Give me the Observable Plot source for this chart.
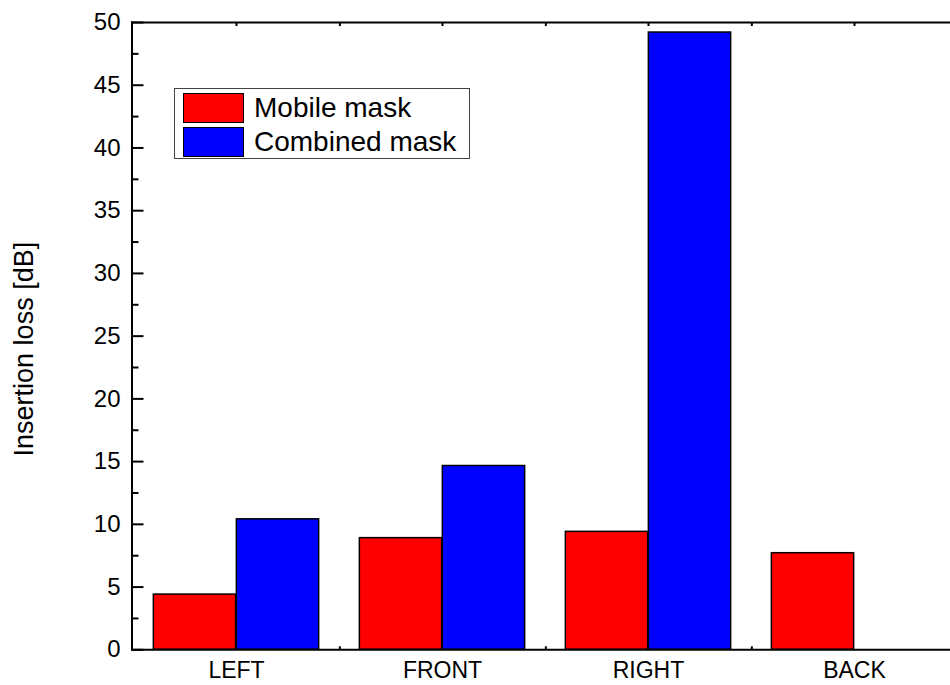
<!DOCTYPE html>
<html>
<head>
<meta charset="utf-8">
<script src="https://cdn.jsdelivr.net/npm/d3@7"></script>
<script src="https://cdn.jsdelivr.net/npm/@observablehq/plot@0.6"></script>
<style>
  html, body { margin: 0; padding: 0; overflow: hidden; background: #fff; width: 950px; height: 685px; }
  #wrap { position: relative; width: 950px; height: 685px; overflow: hidden; }
  #wrap svg { max-width: none !important; overflow: hidden !important; display: block; }
  #legend {
    position: absolute; left: 174px; top: 88px; width: 296px; height: 71px;
    border: 1px solid #444; background: #fff; box-sizing: border-box;
    font-family: "Liberation Sans", Arial, sans-serif; font-size: 28px; color: #000;
  }
  #edge { position: absolute; left: 938px; top: 24px; width: 12px; height: 623px; background: #fff; }
  .row { position: absolute; left: 8px; height: 31px; display: flex; align-items: center; }
  .sw { width: 59px; height: 28px; border: 1.5px solid #000; box-sizing: content-box; margin-right: 10px; }
</style>
</head>
<body>
<div id="wrap"></div>
<script>
const categories = ["LEFT", "FRONT", "RIGHT", "BACK"];
const seriesNames = ["Mobile mask", "Combined mask"];
const mobileMask = [4.4, 8.9, 9.4, 7.7];
const combinedMask = [10.4, 14.65, 49.2, 0];
const yMajorTicks = [0, 5, 10, 15, 20, 25, 30, 35, 40, 45, 50];
const yMinorTicks = [2.5, 7.5, 12.5, 17.5, 22.5, 27.5, 32.5, 37.5, 42.5, 47.5];
const colors = ["#ff0000", "#0000ff"];

const mobileData = categories.map((c, i) => ({cat: c, value: mobileMask[i]}));
const combinedData = categories.map((c, i) => ({cat: c, value: combinedMask[i]}));

const W = 950, ML = 131.5, MR = -8.3;
const step = (W - ML - MR) / categories.length;
const barW = 83;
const font = '"Liberation Sans", Arial, sans-serif';

const chart = Plot.plot({
  width: W,
  height: 685,
  marginLeft: ML,
  marginRight: MR,
  marginTop: 22,
  marginBottom: 35.7,
  style: {fontFamily: font, background: "#fff", color: "#000", maxWidth: "none", overflow: "hidden"},
  x: {type: "band", domain: categories, padding: 0, label: null},
  y: {domain: [0, 50], label: null},
  marks: [
    Plot.barY(mobileData, {x: "cat", y: "value", fill: colors[0], stroke: "#000", strokeWidth: 1.5,
      insetLeft: step / 2 - barW, insetRight: step / 2}),
    Plot.barY(combinedData.filter(d => d.value > 0), {x: "cat", y: "value", fill: colors[1], stroke: "#000", strokeWidth: 1.5,
      insetLeft: step / 2, insetRight: step / 2 - barW}),
    Plot.axisY(yMajorTicks, {anchor: "left", tickSize: -12, tickPadding: 23.5, strokeWidth: 2,
      fontSize: 24, label: null}),
    Plot.axisY(yMinorTicks, {anchor: "left", tickSize: -7, strokeWidth: 2, tickFormat: () => "", label: null}),
    Plot.axisX({anchor: "bottom", tickSize: 0, tickPadding: 12, fontSize: 23, label: null}),
    Plot.axisX({anchor: "bottom", tickSize: -3, strokeWidth: 2, dx: step / 2, tickFormat: () => "", label: null}),
    Plot.axisX({anchor: "top", tickSize: -3, strokeWidth: 2, tickFormat: () => "", label: null}),
    Plot.axisX({anchor: "top", tickSize: -3, strokeWidth: 2, dx: step / 2, tickFormat: () => "", label: null}),
    Plot.frame({anchor: "left", stroke: "#000", strokeWidth: 2}),
    Plot.frame({anchor: "top", stroke: "#000", strokeWidth: 2}),
    Plot.frame({anchor: "bottom", stroke: "#000", strokeWidth: 2}),
    Plot.text(["Insertion loss [dB]"], {frameAnchor: "left", dx: -108, dy: 13, rotate: -90, fontSize: 27,
      textAnchor: "middle", fontFamily: font, fill: "#000"})
  ]
});

const wrap = document.getElementById("wrap");
wrap.appendChild(chart);

const edge = document.createElement("div");
edge.id = "edge";
wrap.appendChild(edge);

const legend = document.createElement("div");
legend.id = "legend";
seriesNames.forEach((name, i) => {
  const row = document.createElement("div");
  row.className = "row";
  row.style.top = (3 + i * 34) + "px";
  const sw = document.createElement("div");
  sw.className = "sw";
  sw.style.background = colors[i];
  const t = document.createElement("span");
  t.textContent = name;
  row.appendChild(sw);
  row.appendChild(t);
  legend.appendChild(row);
});
wrap.appendChild(legend);
</script>
</body>
</html>
